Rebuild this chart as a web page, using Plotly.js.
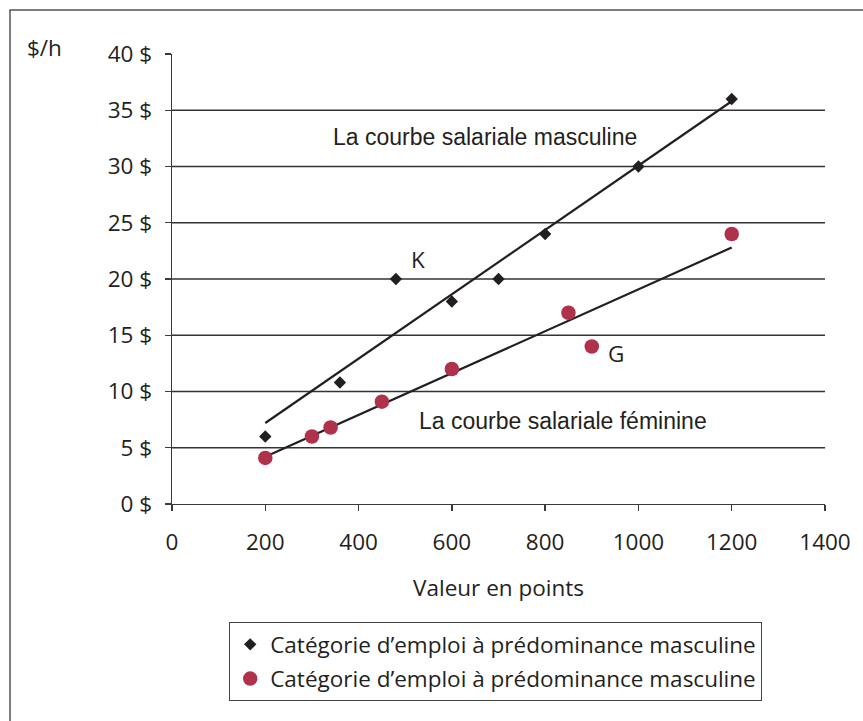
<!DOCTYPE html>
<html>
<head>
<meta charset="utf-8">
<script src="https://cdn.plot.ly/plotly-3.0.1.min.js"></script>
<style>html,body{margin:0;padding:0;background:#fff;}#chart{width:863px;height:721px;}</style>
</head>
<body>
<div id="chart"></div>
<script>
// ---- Data ----
const maleX = [200, 360, 480, 600, 700, 800, 1000, 1200];
const maleY = [6, 10.8, 20, 18, 20, 24, 30, 36];
const femaleX = [200, 300, 340, 450, 600, 850, 900, 1200];
const femaleY = [4.1, 6, 6.8, 9.1, 12, 17, 14, 24];
const maleTrendX = [200, 1200];
const maleTrendY = [7.2, 35.8];
const femaleTrendX = [200, 1200];
const femaleTrendY = [4.2, 22.8];
const yTicks = [0, 5, 10, 15, 20, 25, 30, 35, 40];
const yTickText = ["0 $", "5 $", "10 $", "15 $", "20 $", "25 $", "30 $", "35 $", "40 $"];
const xTicks = [0, 200, 400, 600, 800, 1000, 1200, 1400];
const legendLabels = ["Catégorie d\u2019emploi à prédominance masculine", "Catégorie d\u2019emploi à prédominance masculine"];

// ---- Layout geometry ----
const W = 863, H = 721;
const L = 172, R = 825, T = 54, B = 504;
const px = x => (x - L) / (R - L);
const py = y => (B - y) / (B - T);

const tickFont = {family: "Open Sans, sans-serif", size: 22.5, color: "#231f20"};
const arial = {family: "Liberation Sans, Arial, sans-serif", size: 23, color: "#231f20"};

const traces = [
  {x: maleTrendX, y: maleTrendY, mode: "lines", line: {color: "#231f20", width: 2.2}, showlegend: false, hoverinfo: "skip"},
  {x: femaleTrendX, y: femaleTrendY, mode: "lines", line: {color: "#231f20", width: 2.2}, showlegend: false, hoverinfo: "skip"},
  {x: maleX, y: maleY, mode: "markers", name: legendLabels[0], legendgroup: "m",
   marker: {symbol: "diamond", size: 9.5, color: "#231f20"}},
  {x: femaleX, y: femaleY, mode: "markers", name: legendLabels[1], legendgroup: "f",
   marker: {symbol: "circle", size: 14.5, color: "#b0314a"}}
];

const shapes = [];
// horizontal gridlines (not at the top edge)
yTicks.filter(v => v > 0 && v < 40).forEach(v => {
  shapes.push({type: "line", xref: "paper", yref: "y", x0: 0, x1: 1, y0: v, y1: v,
    line: {color: "#333", width: 1.4}, layer: "below"});
});
// outer frame (left and top edges visible)
shapes.push({type: "rect", xref: "paper", yref: "paper",
  x0: px(10), x1: px(W + 20), y0: py(10), y1: py(H + 20),
  line: {color: "#555", width: 1.5}, fillcolor: "rgba(0,0,0,0)"});

const annotations = [
  {xref: "paper", yref: "paper", x: px(44), y: py(47), text: "$/h", showarrow: false, font: tickFont, xanchor: "center", yanchor: "middle"},
  {x: 671, y: 32.6, text: "La courbe salariale masculine", showarrow: false, font: arial, xanchor: "center", yanchor: "middle"},
  {x: 838, y: 7.4, text: "La courbe salariale féminine", showarrow: false, font: arial, xanchor: "center", yanchor: "middle"},
  {x: 527, y: 21.7, text: "K", showarrow: false, font: tickFont, xanchor: "center", yanchor: "middle"},
  {x: 952, y: 13.4, text: "G", showarrow: false, font: tickFont, xanchor: "center", yanchor: "middle"}
];

const layout = {
  width: W, height: H,
  margin: {l: L, r: W - R, t: T, b: H - B},
  paper_bgcolor: "#fff", plot_bgcolor: "#fff",
  showlegend: true,
  xaxis: {
    range: [0, 1400], tickvals: xTicks, ticktext: xTicks.map(String),
    showgrid: false, zeroline: false, showline: true, linecolor: "#3a3a3a", linewidth: 1.3,
    ticks: "outside", ticklen: 6, tickcolor: "#3a3a3a", tickwidth: 1.3,
    tickfont: tickFont, ticklabelstandoff: 12,
    title: {text: "Valeur en points", font: tickFont, standoff: 24}
  },
  yaxis: {
    range: [0, 40], tickvals: yTicks, ticktext: yTickText,
    showgrid: false, zeroline: false, showline: true, linecolor: "#3a3a3a", linewidth: 1.3,
    ticks: "outside", ticklen: 6, tickcolor: "#3a3a3a", tickwidth: 1.3,
    tickfont: tickFont, ticklabelstandoff: 8
  },
  legend: {
    x: px(229), y: py(622), xanchor: "left", yanchor: "top",
    bordercolor: "#444", borderwidth: 1.2, bgcolor: "#fff",
    font: {family: "Open Sans, sans-serif", size: 22.5, color: "#231f20"},
    traceorder: "grouped", tracegroupgap: 2, itemwidth: 30
  },
  shapes: shapes,
  annotations: annotations
};

Plotly.newPlot("chart", traces, layout, {displayModeBar: false, staticPlot: true});
</script>
</body>
</html>
